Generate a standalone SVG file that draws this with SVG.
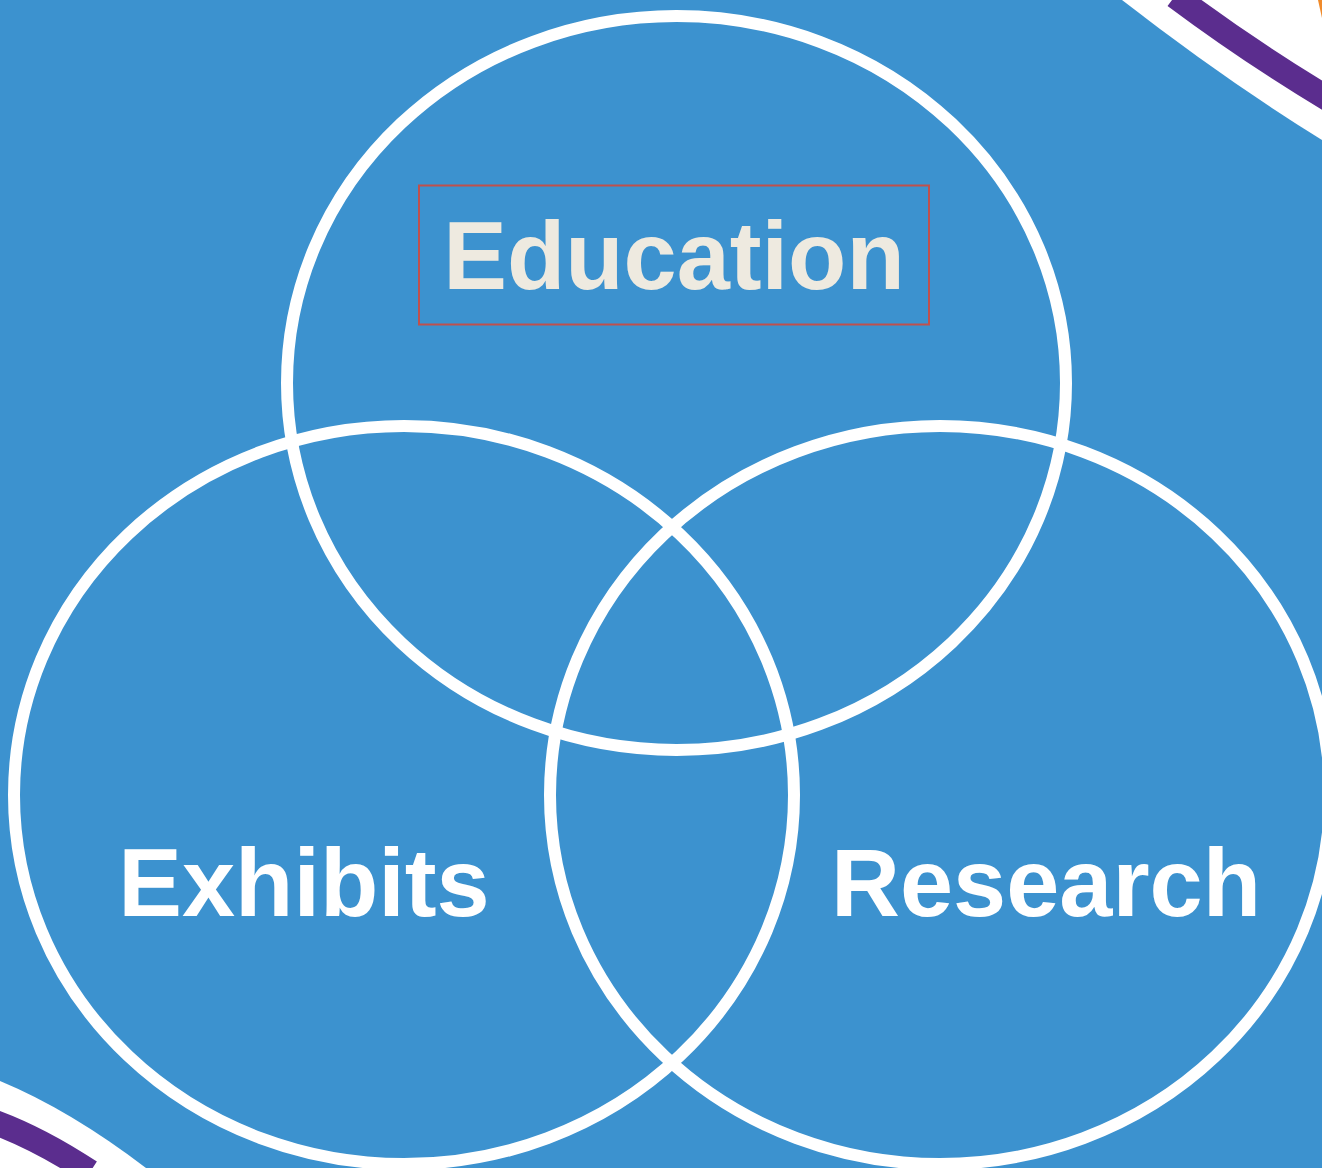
<svg xmlns="http://www.w3.org/2000/svg" width="1322" height="1168" viewBox="0 0 1322 1168">
  <style>
    .ring { fill: none; stroke: #ffffff; stroke-width: 12; }
    .label { font-family: "Liberation Sans", Arial, sans-serif; font-weight: bold; font-size: 95.5px; text-anchor: middle; }
    .deco-white { fill: #ffffff; }
    .deco-purple { fill: none; stroke: #5b2d8e; stroke-width: 25; }
  </style>
  <rect x="0" y="0" width="1322" height="1168" fill="#3c92cf"/>
  <g id="decorations">
    <path class="deco-white" d="M1122,0 Q1225,80 1322,140 L1322,0 Z"/>
    <path class="deco-purple" d="M1175,-4 Q1250,52 1330,100"/>
    <path d="M1318,0 L1322,0 L1322,18 Z" fill="#f08a2a"/>
    <path class="deco-white" d="M0,1081 Q70,1110 146,1168 L0,1168 Z"/>
    <path class="deco-purple" d="M-6,1122 Q40,1139 90,1172"/>
  </g>
  <g id="connectors"></g>
  <g id="education">
    <ellipse class="ring" cx="676.5" cy="383" rx="389.5" ry="367"/>
    <rect x="419" y="185.5" width="510" height="139" fill="none" stroke="#c0504d" stroke-width="2"/>
    <text class="label" x="674" y="289" fill="#eeeae0">Education</text>
  </g>
  <g id="exhibits">
    <ellipse class="ring" cx="404" cy="795" rx="390" ry="369"/>
    <text class="label" x="304" y="916" fill="#ffffff">Exhibits</text>
  </g>
  <g id="research">
    <ellipse class="ring" cx="940" cy="795" rx="390" ry="369"/>
    <text class="label" x="1046" y="916" fill="#ffffff">Research</text>
  </g>
</svg>
